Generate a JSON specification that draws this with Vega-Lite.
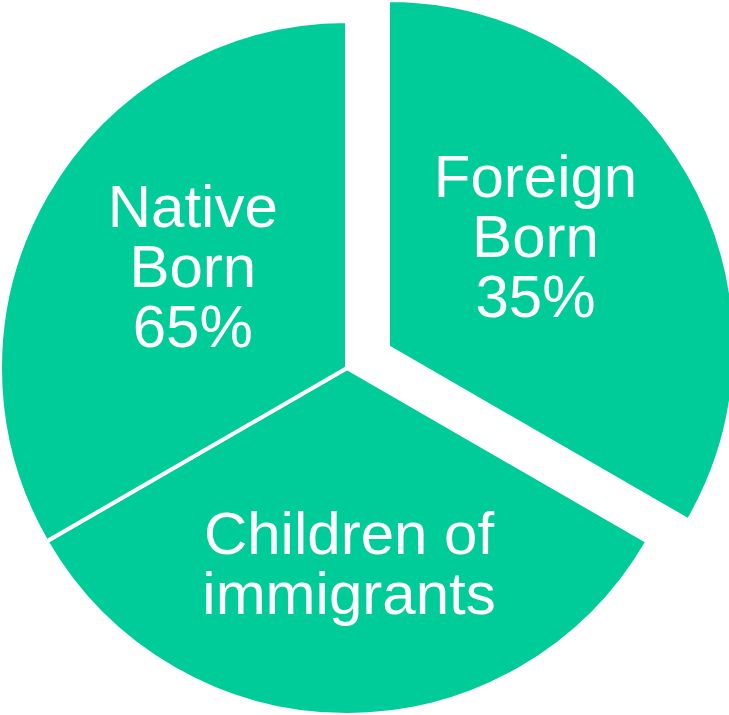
{
  "$schema": "https://vega.github.io/schema/vega-lite/v6.json",
  "autosize": "none",
  "width": 694,
  "height": 694,
  "padding": {"left": 0, "top": 21, "right": 35, "bottom": 0},
  "background": "white",
  "view": {"stroke": null},
  "data": {
    "values": [
      {"label": "Foreign", "text": "Foreign\nBorn\n35%", "value": 1},
      {"label": "Children", "text": "Children of\nimmigrants", "value": 1},
      {"label": "Native", "text": "Native\nBorn\n65%", "value": 1}
    ]
  },
  "encoding": {
    "theta": {"field": "value", "type": "quantitative", "stack": true, "scale": {"range": [-2.0943951, 4.1887902]}},
    "order": {"field": "label", "type": "nominal", "sort": "descending"}
  },
  "layer": [
    {
      "mark": {"type": "arc", "radius": 347, "fill": "#00CC99", "stroke": "white", "strokeWidth": 4},
      "encoding": {
        "opacity": {"condition": {"test": "datum.label === 'Foreign'", "value": 0}, "value": 1}
      }
    },
    {
      "mark": {"type": "arc", "radius": 347, "fill": "#00CC99", "stroke": "white", "strokeWidth": 4, "xOffset": 41, "yOffset": -21},
      "encoding": {
        "opacity": {"condition": {"test": "datum.label === 'Foreign'", "value": 1}, "value": 0}
      }
    },
    {
      "mark": {"type": "text", "radius": 185, "font": "Liberation Sans", "fontSize": 60, "lineHeight": 60, "lineBreak": "\n", "fill": "white", "align": "center", "baseline": "middle", "dx": 6, "dy": -67},
      "encoding": {
        "text": {"field": "text", "type": "nominal"},
        "opacity": {"condition": {"test": "datum.label === 'Native'", "value": 1}, "value": 0}
      }
    },
    {
      "mark": {"type": "text", "radius": 194, "font": "Liberation Sans", "fontSize": 60, "lineHeight": 60, "lineBreak": "\n", "fill": "white", "align": "center", "baseline": "middle", "dx": 2, "dy": -26},
      "encoding": {
        "text": {"field": "text", "type": "nominal"},
        "opacity": {"condition": {"test": "datum.label === 'Children'", "value": 1}, "value": 0}
      }
    },
    {
      "mark": {"type": "text", "radius": 183, "font": "Liberation Sans", "fontSize": 60, "lineHeight": 60, "lineBreak": "\n", "fill": "white", "align": "center", "baseline": "middle", "xOffset": 41, "yOffset": -21, "dx": -11, "dy": -77},
      "encoding": {
        "text": {"field": "text", "type": "nominal"},
        "opacity": {"condition": {"test": "datum.label === 'Foreign'", "value": 1}, "value": 0}
      }
    }
  ]
}
